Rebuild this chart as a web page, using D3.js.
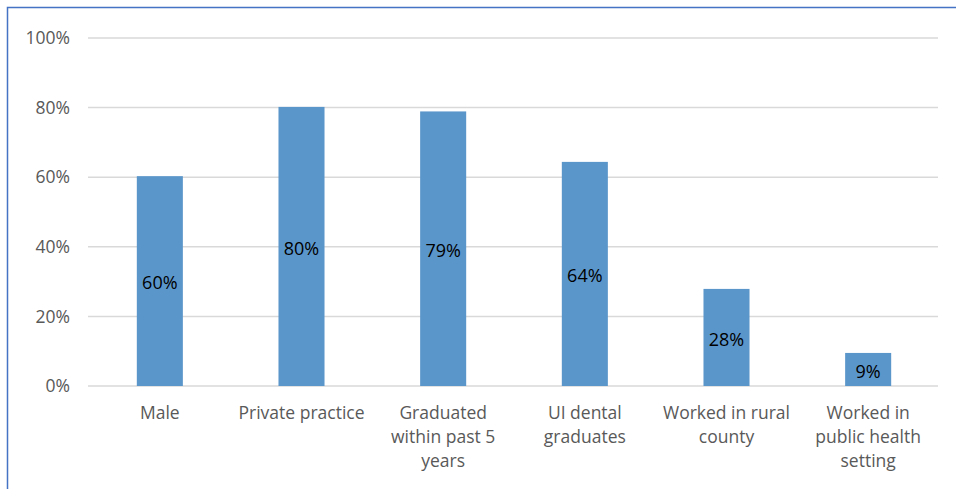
<!DOCTYPE html>
<html>
<head>
<meta charset="utf-8">
<script src="https://cdn.jsdelivr.net/npm/d3@7"></script>
<style>
  body { margin: 0; background: #fff; }
  svg { display: block; font-family: "Open Sans", "Noto Sans", sans-serif; }
</style>
</head>
<body>
<div id="chart"></div>
<script>
// data
const categories = [
	["Male"],
	["Private practice"],
	["Graduated", "within past 5", "years"],
	["UI dental", "graduates"],
	["Worked in rural", "county"],
	["Worked in", "public health", "setting"]
];
const values = [0.603, 0.802, 0.789, 0.644, 0.279, 0.095];
const valueLabels = ["60%", "80%", "79%", "64%", "28%", "9%"];
const yTicks = [0, 0.2, 0.4, 0.6, 0.8, 1.0];

let full_width = 956;
let full_height = 489;
let margin = {top: 38, bottom: 103, left: 88, right: 18};
let width = full_width - margin.left - margin.right;
let height = full_height - margin.top - margin.bottom;

const svg = d3.select('#chart')
	.append('svg')
		.attr('width', full_width)
		.attr('height', full_height);

// chart frame (only top and left show in the crop)
svg.append('path')
	.attr('d', 'M7.5,' + full_height + ' L7.5,7.5 L' + full_width + ',7.5')
	.attr('fill', 'none')
	.attr('stroke', '#4472c4')
	.attr('stroke-width', 1.5);

const g = svg.append('g')
	.attr('transform', 'translate(' + margin.left + ',' + margin.top + ')');

let x = d3.scaleBand()
	.domain(d3.range(categories.length))
	.range([0, width])
	.paddingInner(0.675)
	.paddingOuter(0.3375);
let y = d3.scaleLinear()
	.domain([0, 1])
	.range([height, 0]);

// gridlines
g.append('g')
	.selectAll('line')
	.data(yTicks)
	.enter()
	.append('line')
		.attr('x1', 0)
		.attr('x2', width)
		.attr('y1', d => y(d))
		.attr('y2', d => y(d))
		.attr('stroke', '#d9d9d9')
		.attr('stroke-width', 1.5);

// y axis labels
const yAxis = g.append('g')
	.call(d3.axisLeft(y).tickValues(yTicks).tickFormat(d3.format('.0%')).tickSize(0).tickPadding(18));
yAxis.select('.domain').remove();
yAxis.selectAll('text')
	.attr('fill', '#595959')
	.attr('font-size', '17.5px')
	.attr('font-family', '"Open Sans", sans-serif');

// bars
g.append('g')
	.selectAll('rect')
	.data(values)
	.enter()
	.append('rect')
		.attr('x', (d, i) => x(i) + 1)
		.attr('y', d => y(d))
		.attr('width', x.bandwidth())
		.attr('height', d => height - y(d))
		.attr('fill', '#5b96cb');

// value labels, centred in bar
g.append('g')
	.selectAll('text')
	.data(values)
	.enter()
	.append('text')
		.attr('x', (d, i) => x(i) + x.bandwidth() / 2 + 1)
		.attr('y', d => (y(d) + height) / 2)
		.attr('dy', '0.45em')
		.attr('text-anchor', 'middle')
		.attr('font-size', '18px')
		.attr('fill', '#000')
		.text((d, i) => valueLabels[i]);

// category labels
const cat = g.append('g')
	.selectAll('text')
	.data(categories)
	.enter()
	.append('text')
		.attr('text-anchor', 'middle')
		.attr('font-size', '17.5px')
		.attr('fill', '#595959')
		.attr('transform', (d, i) => 'translate(' + (x(i) + x.bandwidth() / 2 + 1) + ',' + (height + 33) + ')');
cat.selectAll('tspan')
	.data(d => d)
	.enter()
	.append('tspan')
		.attr('x', 0)
		.attr('y', (d, i) => i * 24)
		.text(d => d);
</script>
</body>
</html>
